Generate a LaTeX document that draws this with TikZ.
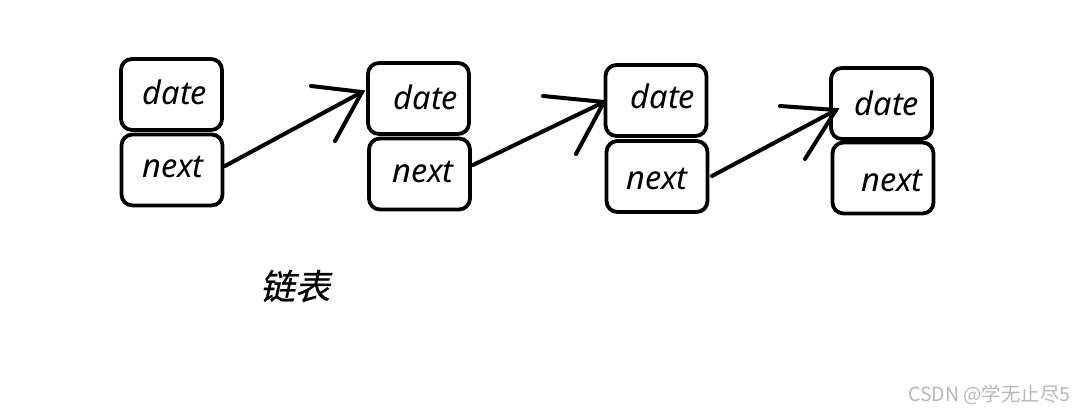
\documentclass[tikz,border=0pt]{standalone}
\usepackage{fontspec}
\setmainfont{Noto Sans}
\newfontfamily\cjkslant[FakeSlant=0.22,FakeBold=0.6]{Noto Sans CJK SC}
\newfontfamily\cjkfont{Noto Sans CJK SC}
\begin{document}
\begin{tikzpicture}[x=1pt,y=-1pt,
  cell/.style={draw=black,line width=3.8pt,rounded corners=11pt,minimum width=101pt,minimum height=71pt,inner sep=0pt},
  word/.style={font=\fontsize{32.5}{35}\selectfont\itshape,inner sep=0pt},
  stroke/.style={line width=4pt,line cap=round,black}]
\useasboundingbox[fill=white] (0,0) rectangle (1075,411);
% node 1
\node[cell] (d1) at (171.5,94.5) {};
\node[cell] (n1) at (172,170) {};
\node[word] (t1a) at (175,92) {date};
\node[word] (t1b) at (173,167) {next};
% node 2
\node[cell] (d2) at (418.5,98.5) {};
\node[cell] (n2) at (419.5,174) {};
\node[word] (t2a) at (426,97) {date};
\node[word] (t2b) at (423,172) {next};
% node 3
\node[cell] (d3) at (656,100.5) {};
\node[cell] (n3) at (657,176.5) {};
\node[word] (t3a) at (663,96) {date};
\node[word] (t3b) at (657,179) {next};
% node 4
\node[cell] (d4) at (881.5,103.5) {};
\node[cell] (n4) at (883,178) {};
\node[word] (t4a) at (887,103) {date};
\node[word] (t4b) at (892,181) {next};
% arrows (hand drawn)
\coordinate (s1) at (225,166);
\coordinate (e1) at (362,92);
\coordinate (b1a) at (311,86);
\coordinate (b1b) at (335,141);
\draw[stroke] (s1) -- (e1);
\draw[stroke] (b1a) -- (e1) -- (b1b);
\coordinate (s2) at (473,165);
\coordinate (e2) at (604,102);
\coordinate (b2a) at (543,96);
\coordinate (b2b) at (576,154);
\draw[stroke] (s2) -- (e2);
\draw[stroke] (b2a) -- (e2) -- (b2b);
\coordinate (s3) at (712,176);
\coordinate (e3) at (836,110);
\coordinate (b3a) at (780,106);
\coordinate (b3b) at (805,159);
\draw[stroke] (s3) -- (e3);
\draw[stroke] (b3a) -- (e3) -- (b3b);
% caption
\node[inner sep=0pt,font=\cjkslant\fontsize{35}{37}\selectfont] (cap) at (295,286) {链表};
% watermark
\node[inner sep=0pt,anchor=east,text=black!28,font=\cjkfont\fontsize{19.5}{21}\selectfont] (wm) at (1071,395) {CSDN @学无止尽5};
\end{tikzpicture}
\end{document}
